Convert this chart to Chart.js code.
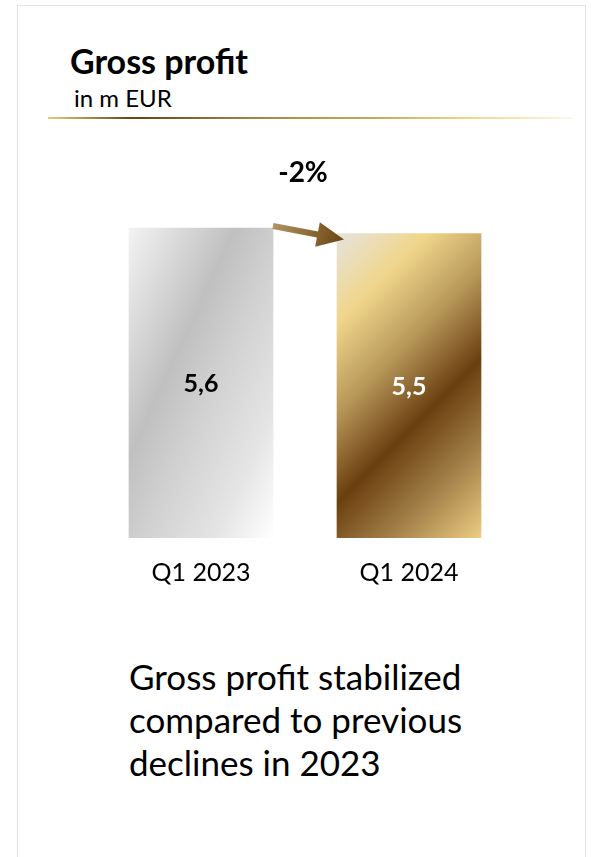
<!DOCTYPE html>
<html>
<head>
<meta charset="utf-8">
<script src="https://cdn.jsdelivr.net/npm/chart.js@4.4.1/dist/chart.umd.min.js"></script>
<style>
  html, body { margin: 0; padding: 0; background: #fff; }
  body { width: 591px; height: 857px; position: relative; overflow: hidden; font-family: Lato, "Open Sans", sans-serif; color: #000; }
  .card { position: absolute; left: 17px; top: 5px; width: 567px; height: 900px; border: 1.5px solid #e4e4e4; }
  #title { position: absolute; left: 70px; top: 41px; font-size: 34px; font-weight: 700; line-height: 1.2; white-space: nowrap; }
  #unit { position: absolute; left: 74px; top: 84px; font-size: 24px; line-height: 1.2; white-space: nowrap; }
  .rule { position: absolute; left: 48px; top: 117px; width: 524px; height: 2px;
    background: linear-gradient(to right, #ecc97a 0%, #6b4210 16%, #a98545 40%, #c9a663 62%, #f0d98f 82%, #fbf7ea 100%); }
  #wrap { position: absolute; left: 0; top: 0; width: 591px; height: 620px; }
  #note { position: absolute; left: 129px; top: 655px; font-size: 35px; line-height: 43px; white-space: nowrap; }
</style>
</head>
<body>
<div class="card"></div>
<div id="title">Gross profit</div>
<div id="unit">in m EUR</div>
<div class="rule"></div>
<div id="wrap"><canvas id="chart"></canvas></div>
<div id="note">Gross profit stabilized<br>compared to previous<br>declines in 2023</div>

<script>
  var categories = ['Q1 2023', 'Q1 2024'];
  var grossProfit = [5.6, 5.5];
  var changeLabel = '-2%';
  var valueColors = ['#000000', '#ffffff'];

  // gradient stops for the two bar finishes
  var silverStops = [[0, '#f3f3f3'], [0.37, '#c0c0c0'], [0.55, '#d1d1d1'], [0.8, '#e5e5e5'], [1, '#ffffff']];
  var goldStops = [[0, '#e6e3de'], [0.2, '#f0d68b'], [0.4, '#b8985a'], [0.6, '#6a3f0f'], [0.8, '#a4824a'], [1, '#eccd82']];

  function barFill(context) {
    var chart = context.chart;
    if (!chart.chartArea) return '#ccc';
    var i = context.dataIndex;
    var ctx = chart.ctx;
    var xs = chart.scales.x, ys = chart.scales.y;
    var w = 144;
    var x0 = xs.getPixelForValue(i) - w / 2;
    var y0 = ys.getPixelForValue(grossProfit[i]);
    var h = ys.getPixelForValue(0) - y0;
    var g, stops;
    if (i === 0) {
      // bands follow the box diagonal
      var k = 2 * w * h / (h * h + w * w);
      g = ctx.createLinearGradient(x0, y0, x0 + h * k, y0 + w * k);
      stops = silverStops;
    } else {
      var d = (w + h) / 2;
      g = ctx.createLinearGradient(x0, y0, x0 + d, y0 + d);
      stops = goldStops;
    }
    stops.forEach(function(s) { g.addColorStop(s[0], s[1]); });
    return g;
  }

  var annotations = {
    id: 'annotations',
    afterDatasetsDraw: function(chart) {
      var ctx = chart.ctx;
      var bars = chart.getDatasetMeta(0).data;

      // values inside the bars
      ctx.save();
      ctx.font = 'bold 25px Lato';
      ctx.textAlign = 'center';
      ctx.textBaseline = 'middle';
      bars.forEach(function(bar, i) {
        ctx.fillStyle = valueColors[i];
        ctx.fillText(grossProfit[i].toFixed(1).replace('.', ','), bar.x, (bar.y + bar.base) / 2 + 1);
      });

      // change arrow between the bar tops
      var b1 = bars[0], b2 = bars[1];
      var sx = b1.x + b1.width / 2, sy = b1.y - 2;
      var tx = b2.x - b2.width / 2 + 7, ty = b2.y + 6;
      var len = Math.hypot(tx - sx, ty - sy);
      ctx.translate(sx, sy);
      ctx.rotate(Math.atan2(ty - sy, tx - sx));
      var g = ctx.createLinearGradient(0, 0, len, 0);
      g.addColorStop(0, '#b09463');
      g.addColorStop(0.6, '#86642f');
      g.addColorStop(1, '#6a4414');
      ctx.fillStyle = g;
      ctx.beginPath();
      ctx.moveTo(0, -3);
      ctx.lineTo(len - 27, -3);
      ctx.lineTo(len - 27, -12.5);
      ctx.lineTo(len, 0);
      ctx.lineTo(len - 27, 12.5);
      ctx.lineTo(len - 27, 3);
      ctx.lineTo(0, 3);
      ctx.closePath();
      ctx.fill();
      ctx.restore();

      // change label
      ctx.save();
      ctx.font = 'bold 28px Lato';
      ctx.fillStyle = '#000';
      ctx.textAlign = 'center';
      ctx.textBaseline = 'middle';
      ctx.fillText(changeLabel, (b1.x + b2.x) / 2 - 2, b1.y - 55);
      ctx.restore();
    }
  };

  new Chart(document.getElementById('chart'), {
    type: 'bar',
    data: {
      labels: categories,
      datasets: [{
        data: grossProfit,
        backgroundColor: barFill,
        borderWidth: 0,
        barThickness: 144
      }]
    },
    options: {
      responsive: true,
      maintainAspectRatio: false,
      animation: false,
      layout: { padding: { left: 97, right: 78, top: 150.5, bottom: 22 } },
      plugins: { legend: { display: false }, tooltip: { enabled: false } },
      scales: {
        x: {
          grid: { display: false, drawTicks: false },
          border: { display: false },
          ticks: { color: '#000', font: { family: 'Lato', size: 25 }, padding: 20 },
          afterFit: function(scale) { scale.height = 60; }
        },
        y: { display: false, min: 0, max: 7 }
      }
    },
    plugins: [annotations]
  });
</script>
</body>
</html>
